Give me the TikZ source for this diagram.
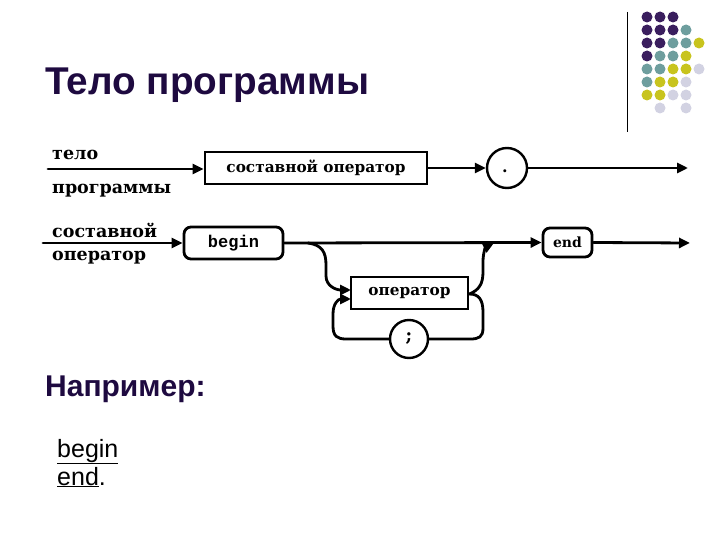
\documentclass[tikz,border=0pt]{standalone}
\usepackage{fontspec}
\setmainfont{Liberation Sans}
\newfontfamily\diafont{DejaVu Serif}
\newfontfamily\monofont{Liberation Mono}
\usetikzlibrary{arrows.meta}
\definecolor{titlecol}{HTML}{1E0A40}
\definecolor{dpurple}{HTML}{3A1E5E}
\definecolor{dteal}{HTML}{6E9E9E}
\definecolor{dyellow}{HTML}{C8C41E}
\definecolor{dlav}{HTML}{D2D2E2}
\tikzset{
  conn/.style={line width=2.8pt, line cap=round},
  arr/.style={conn, -{Triangle[length=11pt,width=10pt]}},
  rectbox/.style={draw, line width=2.8pt, minimum height=32pt, inner sep=0pt, font=\diafont\bfseries\fontsize{15.3}{15.3}\selectfont},
  roundbox/.style={rectbox, rounded corners=7pt},
  circbox/.style={draw, circle, line width=2.4pt, minimum size=40pt, inner sep=0pt, font=\diafont\bfseries\fontsize{16}{16}\selectfont},
  lbl/.style={anchor=base west, inner sep=0pt, font=\diafont\bfseries\fontsize{17.5}{17.5}\selectfont},
  dot/.style={circle, fill=#1, minimum size=11pt, inner sep=0pt}
}
\begin{document}
\begin{tikzpicture}[x=1pt,y=-1pt]
\useasboundingbox (0,0) rectangle (720,540);
% decoration
\draw[line width=1pt] (627,12) -- (627,132);
\foreach \c [count=\i] in {dpurple,dpurple,dpurple}{\node[dot=\c] at (634+13*\i,17) {};}
\foreach \c [count=\i] in {dpurple,dpurple,dpurple,dteal}{\node[dot=\c] at (634+13*\i,30) {};}
\foreach \c [count=\i] in {dpurple,dpurple,dteal,dteal,dyellow}{\node[dot=\c] at (634+13*\i,43) {};}
\foreach \c [count=\i] in {dpurple,dteal,dteal,dyellow}{\node[dot=\c] at (634+13*\i,56) {};}
\foreach \c [count=\i] in {dteal,dteal,dyellow,dyellow,dlav}{\node[dot=\c] at (634+13*\i,69) {};}
\foreach \c [count=\i] in {dteal,dyellow,dyellow,dlav}{\node[dot=\c] at (634+13*\i,82) {};}
\foreach \c [count=\i] in {dyellow,dyellow,dlav,dlav}{\node[dot=\c] at (634+13*\i,95) {};}
\node[dot=dlav] at (660,108) {};
\node[dot=dlav] at (686,108) {};
% title
\node[anchor=base west, inner sep=0pt, text=titlecol, font=\bfseries\fontsize{38.7}{38.7}\selectfont] (title) at (45,95) {Тело программы};
% diagram 1
\node[lbl] (l1a) at (52,160) {тело};
\node[lbl] (l1b) at (52,194) {программы};
\coordinate (s1) at (48,169);
\node[rectbox, minimum width=222pt] (sost) at (316,168) {составной оператор};
\node[circbox] (dot1) at (507,168) {};
\node[font=\diafont\bfseries\fontsize{16}{16}\selectfont, inner sep=0pt] (dotc) at (505,171) {.};
\coordinate (e1) at (688,168);
\draw[arr] (s1) -- (s1 -| sost.west);
\draw[arr] (sost.east) -- (dot1.west);
\draw[arr] (dot1.east) -- (e1);
% diagram 2
\node[lbl] (l2a) at (52,237) {составной};
\node[lbl] (l2b) at (52,260) {оператор};
\coordinate (s2) at (43,243);
\node[roundbox, minimum width=99pt, font=\monofont\bfseries\fontsize{17}{17}\selectfont] (begin) at (233.5,243) {begin};
\node[roundbox, minimum width=49pt, minimum height=29pt, font=\diafont\bfseries\fontsize{14}{14}\selectfont] (end) at (567.5,242.5) {end};
\coordinate (e2) at (690,243);
\node[rectbox, minimum width=117pt] (oper) at (409.5,293) {оператор};
\node[circbox, minimum size=38pt, font=\diafont\bfseries\fontsize{18}{18}\selectfont] (semi) at (409,339) {;};
\coordinate (j1) at (308,243);
\coordinate (j2) at (494,243);
\draw[arr] (s2) -- (begin.west);
\draw[arr] (begin.east) -- (end.west);
\draw[arr] (end.east) -- (e2);
% branch down into operator
\draw[arr] (j1) .. controls (322,245) and (326,252) .. (326,265) -- (326,276) .. controls (326,286) and (336,290) .. (351,290);
% up from operator to main line
\draw[arr] ([yshift=-1pt]oper.east) .. controls (479,290) and (483,284) .. (483,272) -- (483,262) .. controls (483,252) and (486,247) .. (j2);
% loop via ;
\draw[conn] ([yshift=-1pt]oper.east) .. controls (479,294) and (483,300) .. (483,312) -- (483,328) .. controls (483,337) and (479,339) .. (470,339) -- (semi.east);
\draw[arr] (semi.west) -- (346,339) .. controls (337,339) and (333,336) .. (333,326) -- (333,314) .. controls (333,304) and (338,299) .. (351,299);
% example
\node[anchor=base west, inner sep=0pt, text=titlecol, font=\bfseries\fontsize{30}{30}\selectfont] (ex) at (45,396) {Например:};
\node[anchor=base west, inner sep=0pt, font=\fontsize{25}{25}\selectfont] (b1) at (57,457) {\underline{begin}};
\node[anchor=base west, inner sep=0pt, font=\fontsize{25}{25}\selectfont] (b2) at (57,485) {\underline{end}.};
\end{tikzpicture}
\end{document}
